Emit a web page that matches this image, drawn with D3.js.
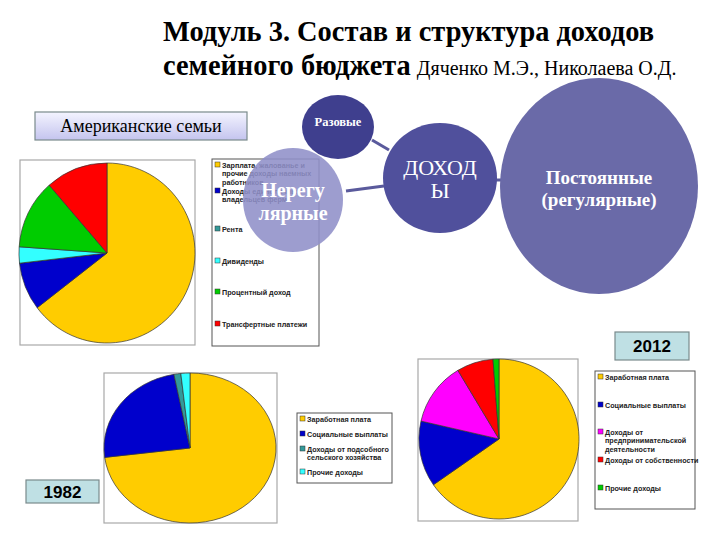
<!DOCTYPE html>
<html>
<head>
<meta charset="utf-8">
<script src="https://cdn.jsdelivr.net/npm/d3@7"></script>
<style>
  body { margin: 0; background: #fff; }
  svg { display: block; }
</style>
</head>
<body>
<div id="chart"></div>
<script>
// American families
var usLabels = [
    ["Зарплата, жалованье и", "прочие доходы наемных", "работников"],
    ["Доходы единоличных", "владельцев ферм"],
    ["Рента"],
    ["Дивиденды"],
    ["Процентный доход"],
    ["Трансфертные платежи"]
]
var usValues = [64.6, 8.6, 0, 2.9, 12.5, 11.4]
var usColors = ["#ffcc00", "#0000cc", "#339999", "#33ffff", "#00cc00", "#ff0000"]

// 1982
var y1982Labels = [
    ["Заработная плата"],
    ["Социальные выплаты"],
    ["Доходы от подсобного", "сельского хозяйства"],
    ["Прочие доходы"]
]
var y1982Values = [73, 24, 1.3, 1.7]
var y1982Colors = ["#ffcc00", "#0000cc", "#339999", "#33ffff"]

// 2012
var y2012Labels = [
    ["Заработная плата"],
    ["Социальные выплаты"],
    ["Доходы от", "предпринимательской", "деятельности"],
    ["Доходы от собственности"],
    ["Прочие доходы"]
]
var y2012Values = [65.3, 13.3, 12.8, 7.4, 1.2]
var y2012Colors = ["#ffcc00", "#0000cc", "#ff00ff", "#ff0000", "#00cc00"]

var SERIF = "'Liberation Serif'"
var SANS = "'Liberation Sans'"

var width = 720, height = 540

var svg = d3.select("#chart").append("svg")
    .attr("width", width)
    .attr("height", height)

var defs = svg.append("defs")
var grad = defs.append("linearGradient").attr("id", "boxGrad")
    .attr("x1", 0).attr("y1", 0).attr("x2", 0).attr("y2", 1)
grad.append("stop").attr("offset", "0%").attr("stop-color", "#f4f4ff")
grad.append("stop").attr("offset", "100%").attr("stop-color", "#c4c4ee")

// title
var title = svg.append("text")
    .style("font-family", SERIF)
    .attr("fill", "#000")
title.append("tspan")
    .attr("x", 163).attr("y", 41)
    .attr("font-size", 28.4).attr("font-weight", "bold")
    .text("Модуль 3. Состав и структура доходов")
title.append("tspan")
    .attr("x", 163).attr("y", 75)
    .attr("font-size", 28.4).attr("font-weight", "bold")
    .text("семейного бюджета")
title.append("tspan")
    .attr("dx", 6)
    .attr("font-size", 20)
    .text("Дяченко М.Э., Николаева О.Д.")

// label boxes
function labelBox(x, y, w, h, fill, txt, fam, size, weight) {
    svg.append("rect")
        .attr("x", x).attr("y", y).attr("width", w).attr("height", h)
        .attr("fill", fill).attr("stroke", "#7a8a8c").attr("stroke-width", 1.2)
    svg.append("text")
        .style("font-family", fam)
        .attr("x", x + w / 2).attr("y", y + h / 2)
        .attr("dy", "0.36em")
        .attr("text-anchor", "middle")
        .attr("font-size", size)
        .attr("font-weight", weight)
        .text(txt)
}

labelBox(35, 112, 212, 28, "url(#boxGrad)", "Американские семьи", SERIF, 18, "normal")
labelBox(615, 332, 74, 28, "#bfe0e4", "2012", SANS, 17, "bold")
labelBox(26, 480, 73, 23, "#bfe0e4", "1982", SANS, 17, "bold")

// pies
var pie = d3.pie().sort(null).value(function(d) { return d })
var arc = d3.arc().innerRadius(0).outerRadius(1)

function drawPie(values, colors, frame, cx, cy, rx, ry) {
    svg.append("rect")
        .attr("x", frame[0]).attr("y", frame[1])
        .attr("width", frame[2]).attr("height", frame[3])
        .attr("fill", "#fff").attr("stroke", "#a8a8a8").attr("stroke-width", 1.2)

    var g = svg.append("g")
        .attr("transform", "translate(" + cx + "," + cy + ") scale(" + rx + "," + ry + ")")

    g.selectAll("path")
        .data(pie(values))
        .enter()
        .append("path")
        .attr("d", arc)
        .attr("fill", function(d, i) { return colors[i] })
        .attr("stroke", "#333")
        .attr("stroke-width", 0.7)
        .attr("vector-effect", "non-scaling-stroke")
}

function drawLegend(labels, colors, box, ys) {
    svg.append("rect")
        .attr("x", box[0]).attr("y", box[1])
        .attr("width", box[2]).attr("height", box[3])
        .attr("fill", "#fff").attr("stroke", "#555").attr("stroke-width", 1)

    var items = svg.append("g").selectAll("g")
        .data(labels)
        .enter()
        .append("g")
        .attr("transform", function(d, i) { return "translate(" + (box[0] + 3) + "," + ys[i] + ")" })

    items.append("rect")
        .attr("x", 0).attr("y", -3)
        .attr("width", 5).attr("height", 5)
        .attr("fill", function(d, i) { return colors[i] })
        .attr("stroke", "#333").attr("stroke-width", 0.5)

    items.append("text")
        .style("font-family", SANS)
        .attr("font-size", 7.2)
        .attr("font-weight", "bold")
        .attr("fill", "#222")
        .selectAll("tspan")
        .data(function(d) { return d })
        .enter()
        .append("tspan")
        .attr("x", 7)
        .attr("y", function(d, j) { return j * 8.6 })
        .attr("dy", "0.35em")
        .text(function(d) { return d })
}

drawPie(usValues, usColors, [20, 160, 175, 185], 107, 253, 88, 90)
drawLegend(usLabels, usColors, [212, 159, 107, 187], [165, 191, 229, 261, 292, 324])

drawPie(y1982Values, y1982Colors, [104, 373, 173, 150], 190, 448, 86, 75)
drawLegend(y1982Labels, y1982Colors, [297, 413, 95, 70], [419, 434, 449, 472])

drawPie(y2012Values, y2012Colors, [418, 359, 160, 162], 499, 439, 80, 80)
drawLegend(y2012Labels, y2012Colors, [595, 371, 100, 138], [377, 405, 432, 460, 488])

// bubble diagram
var links = [
    [[372, 140], [389, 150]],
    [[346, 191], [384, 186]],
    [[495, 180], [502, 180]]
]
svg.append("g").selectAll("line")
    .data(links)
    .enter()
    .append("line")
    .attr("x1", function(d) { return d[0][0] }).attr("y1", function(d) { return d[0][1] })
    .attr("x2", function(d) { return d[1][0] }).attr("y2", function(d) { return d[1][1] })
    .attr("stroke", "#5a5a9c").attr("stroke-width", 3)

var bubbles = [
    {lines: ["Нерегу", "лярные"], cx: 293, cy: 200, rx: 50, ry: 52, fill: "#8f8fc8", op: 0.88, size: 20, weight: "bold", ty: 190, lh: 23},
    {lines: ["Разовые"], cx: 338, cy: 127, rx: 36, ry: 32, fill: "#3f3f8e", op: 1, size: 12.5, weight: "bold", ty: 122, lh: 0},
    {lines: ["ДОХОД", "Ы"], cx: 440, cy: 178, rx: 57, ry: 55, fill: "#50509c", op: 1, size: 22, weight: "normal", ty: 167, lh: 23},
    {lines: ["Постоянные", "(регулярные)"], cx: 599, cy: 186, rx: 99, ry: 108, fill: "#6a6aa8", op: 1, size: 19, weight: "bold", ty: 177, lh: 22}
]

var bg = svg.append("g").selectAll("g")
    .data(bubbles)
    .enter()
    .append("g")

bg.append("ellipse")
    .attr("cx", function(d) { return d.cx }).attr("cy", function(d) { return d.cy })
    .attr("rx", function(d) { return d.rx }).attr("ry", function(d) { return d.ry })
    .attr("fill", function(d) { return d.fill })
    .attr("fill-opacity", function(d) { return d.op })

bg.append("text")
    .style("font-family", SERIF)
    .attr("text-anchor", "middle")
    .attr("fill", "#fff")
    .attr("font-size", function(d) { return d.size })
    .attr("font-weight", function(d) { return d.weight })
    .each(function(d) {
        var t = d3.select(this)
        d.lines.forEach(function(l, j) {
            t.append("tspan")
                .attr("x", d.cx)
                .attr("y", d.ty + j * d.lh)
                .attr("dy", "0.35em")
                .text(l)
        })
    })
</script>
</body>
</html>
